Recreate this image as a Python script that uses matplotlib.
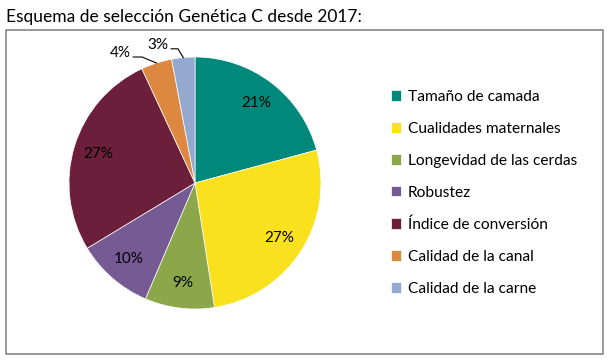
import matplotlib
matplotlib.use("Agg")
import matplotlib.pyplot as plt
from matplotlib.patches import Rectangle
import numpy as np

plt.rcParams['font.family'] = ['Lato', 'DejaVu Sans']

title = "Esquema de selección Genética C desde 2017:"
categories = ["Tamaño de camada", "Cualidades maternales", "Longevidad de las cerdas",
              "Robustez", "Índice de conversión", "Calidad de la canal", "Calidad de la carne"]
values = [21, 27, 9, 10, 27, 4, 3]
labels = ["21%", "27%", "9%", "10%", "27%", "4%", "3%"]
colors = ["#00897B", "#F9E11E", "#8BA74A", "#765A94", "#6B1F3A", "#DD8840", "#94A9D0"]

W, H = 608, 362
fig = plt.figure(figsize=(W/100, H/100), dpi=100)

# border box
fig.patches.append(Rectangle((6/W, (H-354)/H), (603-6)/W, (354-30)/H, transform=fig.transFigure,
                             fill=False, edgecolor="#888888", linewidth=1.2))
fig.text(6/W, 1-17/H, title, ha="left", va="center", fontsize=12.5)

cx, cy, r = 195, 183, 126
ax = fig.add_axes([(cx-r)/W, (H-cy-r)/H, 2*r/W, 2*r/H])
wedges, _ = ax.pie(values, colors=colors, startangle=90, counterclock=False,
                   wedgeprops=dict(edgecolor="white", linewidth=0.5))
ax.set_xlim(-1, 1); ax.set_ylim(-1, 1)
ax.set_aspect("equal")
ax.axis("off")

for i, w in enumerate(wedges):
    mid = np.deg2rad((w.theta1 + w.theta2) / 2)
    if values[i] >= 5:
        ax.text(0.8*np.cos(mid), 0.8*np.sin(mid), labels[i], ha="center", va="center", fontsize=11)

# outside labels with leader lines
outside = {5: ((-0.595, 1.03), (-0.49, 1.0), (-0.42, 1.0)),
           6: ((-0.295, 1.095), (-0.19, 1.065), (-0.135, 1.065))}
for i, (tpos, p1, p2) in outside.items():
    w = wedges[i]
    mid = np.deg2rad((w.theta1 + w.theta2) / 2)
    ex, ey = np.cos(mid), np.sin(mid)
    ax.text(tpos[0], tpos[1], labels[i], ha="center", va="center", fontsize=11, clip_on=False)
    ax.plot([p1[0], p2[0], ex], [p1[1], p2[1], ey], color="black", linewidth=0.8, clip_on=False)

leg = fig.legend(wedges, categories, loc="upper left",
                 bbox_to_anchor=(391/W, 1-90/H), frameon=False, fontsize=11.2,
                 handlelength=0.65, handleheight=0.65, handletextpad=0.45, labelspacing=1.15,
                 borderpad=0, borderaxespad=0)

fig.savefig("out.png", dpi=100)
